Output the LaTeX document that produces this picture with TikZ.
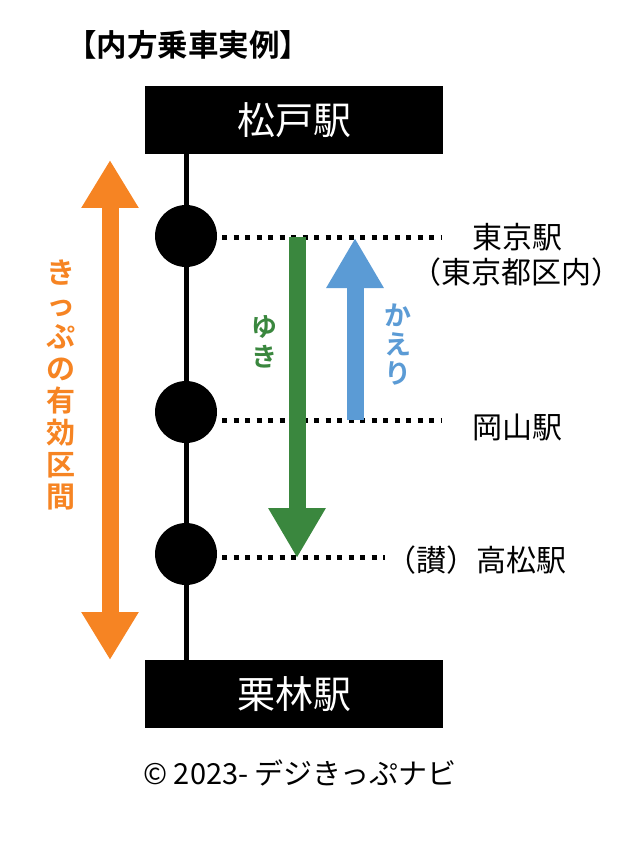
\documentclass[tikz,border=0pt]{standalone}
\usepackage{fontspec}
\setmainfont{Noto Sans CJK JP}[BoldFont={Noto Sans CJK JP Bold}]
\usepackage{xcolor}
\usetikzlibrary{arrows.meta,positioning}
\definecolor{tripOrange}{HTML}{F68423}
\definecolor{goGreen}{HTML}{3A873E}
\definecolor{backBlue}{HTML}{5B9BD5}

\begin{document}
\begin{tikzpicture}[
  x=1pt, y=-1pt,
  stationbox/.style={fill=black, text=white, minimum width=298pt, minimum height=68pt, inner sep=0pt, font=\fontsize{38}{40}\selectfont},
  stop/.style={circle, fill=black, minimum size=62pt, inner sep=0pt},
  trunk/.style={line width=5pt},
  dots/.style={line width=5pt, dash pattern=on 5pt off 6.5pt},
  stn/.style={inner sep=0pt, font=\fontsize{30}{32}\selectfont},
  bigarr/.style={line width=17pt, -{Triangle[width=54pt,length=50pt]}},
  vtext/.style={align=center, inner sep=0pt}
]
\useasboundingbox (0,0) rectangle (640,842);
% title
\node[inner sep=0pt, anchor=west, font=\bfseries\fontsize{30.5}{32}\selectfont] (title) at (66,45) {【内方乗車実例】};
% terminal boxes and stops
\node[stationbox] (matsudo) at (294,120) {松戸駅};
\node[stationbox] (kuribayashi) at (294,694) {栗林駅};
\draw[trunk] (matsudo.south -| 186,0) -- (kuribayashi.north -| 186,0);
\node[stop] (tokyo) at (186,236) {};
\node[stop] (okayama) at (186,412) {};
\node[stop] (takamatsu) at (186,554) {};
% dotted leaders
\coordinate (tokyoEnd) at (442,237);
\coordinate (okayamaEnd) at (442,420);
\coordinate (takamatsuEnd) at (385,557);
\draw[dots] (222,237) -- (tokyoEnd);
\draw[dots] (222,420) -- (okayamaEnd);
\draw[dots] (222,557) -- (takamatsuEnd);
% station names
\node[stn] (lblTokyo) at (517,237) {東京駅};
\node[stn] (lblTokyoArea) at (516,272) {（東京都区内）};
\node[stn] (lblOkayama) at (517,427) {岡山駅};
\node[stn, anchor=west] (lblTakamatsu) at (386,560) {（讃）高松駅};
% valid section
\coordinate (validTop) at (110,160);
\coordinate (validBot) at (110,660);
\draw[line width=17pt, tripOrange, {Triangle[width=54pt,length=48pt]}-{Triangle[width=54pt,length=48pt]}] (validTop) -- (validBot);
\node[vtext, text=tripOrange, font=\bfseries\fontsize{29}{32}\selectfont] (lblValid) at (61,385) {き\\っ\\ぷ\\の\\有\\効\\区\\間};
% outbound and return
\coordinate (goTop) at (297,237);
\coordinate (goBot) at (297,558);
\draw[bigarr, goGreen] (goTop) -- (goBot);
\node[vtext, text=goGreen, font=\bfseries\fontsize{26}{30}\selectfont] (lblGo) at (264,342) {ゆ\\き};
\coordinate (backBot) at (355,420);
\coordinate (backTop) at (355,238);
\draw[bigarr, backBlue] (backBot) -- (backTop);
\node[vtext, text=backBlue, font=\bfseries\fontsize{27}{29}\selectfont] (lblBack) at (398,345) {か\\え\\り};
% credit
\node[inner sep=0pt, font=\fontsize{29}{30}\selectfont] (credit) at (300,773) {© 2023- デジきっぷナビ};
\end{tikzpicture}
\end{document}
